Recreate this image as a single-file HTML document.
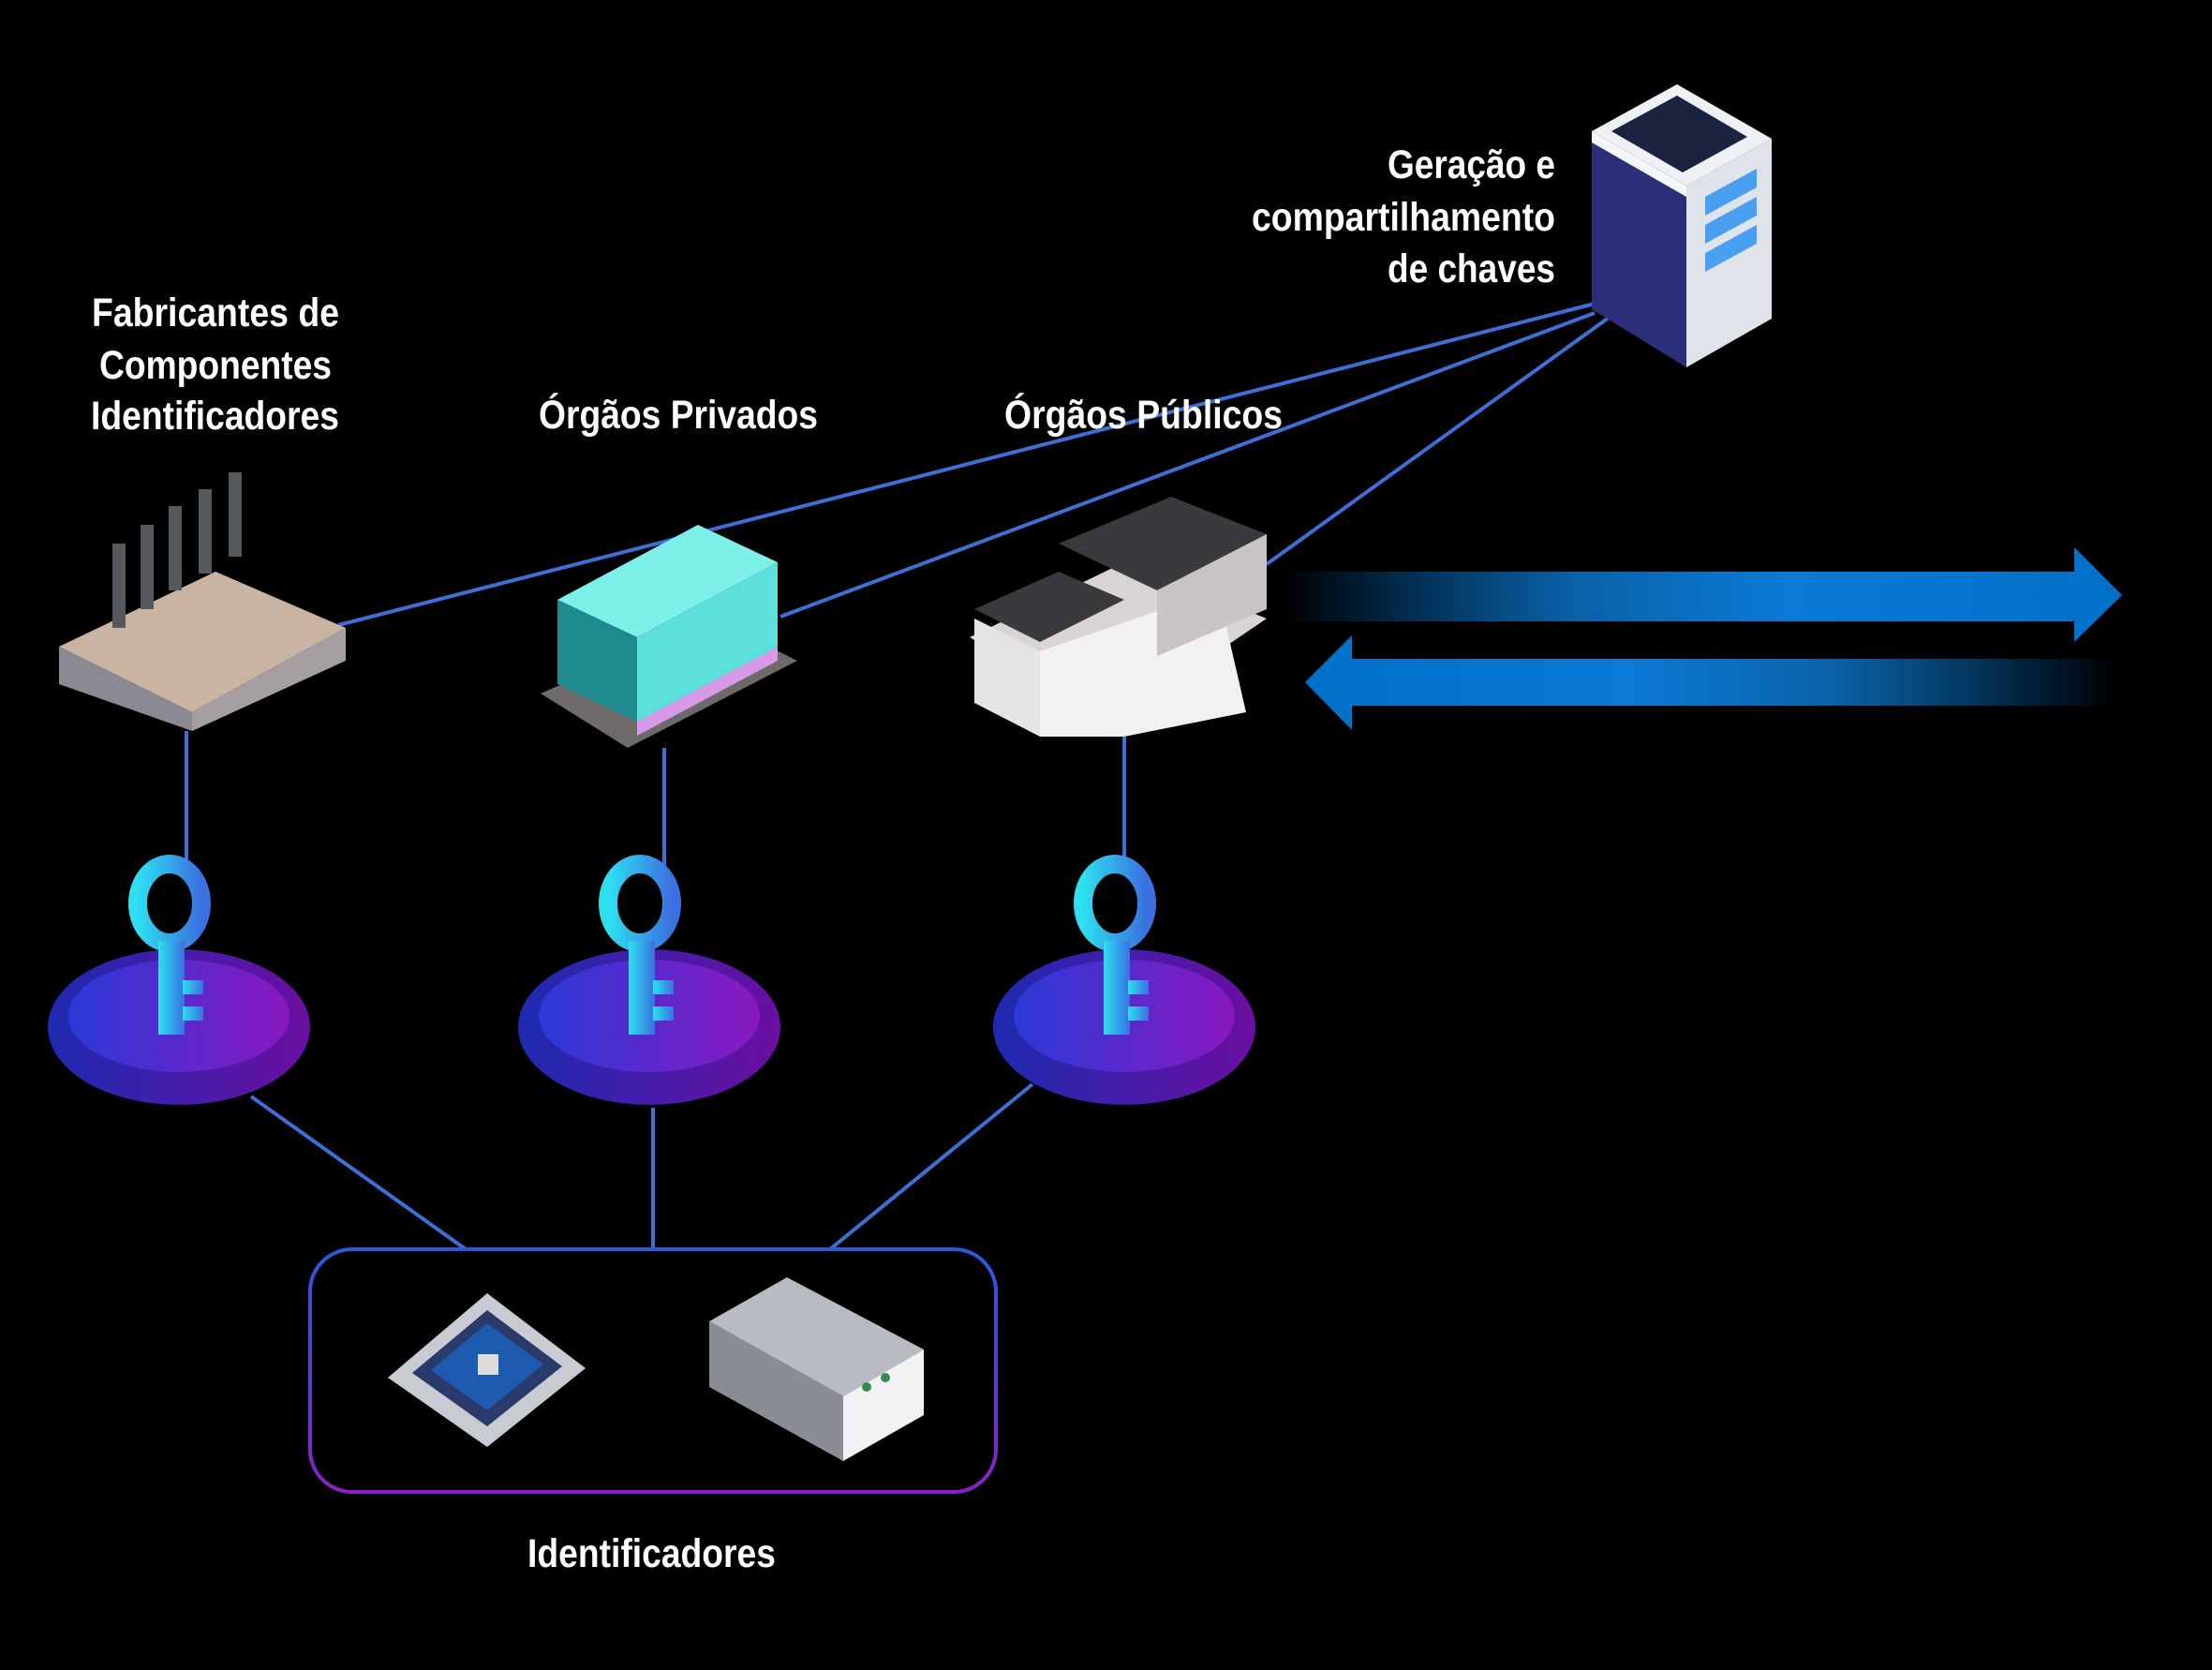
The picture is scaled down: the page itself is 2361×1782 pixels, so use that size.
<!DOCTYPE html>
<html><head><meta charset="utf-8"><style>
html,body{margin:0;padding:0;background:#000;}
svg{display:block}
text{font-family:"Liberation Sans Narrow","Liberation Sans",sans-serif;font-weight:bold;fill:#fff;font-size:43px}
</style></head><body>
<svg width="2361" height="1782" viewBox="0 0 2361 1782" xmlns="http://www.w3.org/2000/svg">
<defs>
<linearGradient id="ar" x1="0" x2="1"><stop offset="0" stop-color="#0070c8" stop-opacity="0"/><stop offset="0.35" stop-color="#0a62a8"/><stop offset="0.6" stop-color="#0a7ad6"/><stop offset="1" stop-color="#0070c8"/></linearGradient>
<linearGradient id="al" x1="1" x2="0"><stop offset="0" stop-color="#0070c8" stop-opacity="0"/><stop offset="0.35" stop-color="#0a62a8"/><stop offset="0.6" stop-color="#0a7ad6"/><stop offset="1" stop-color="#0070c8"/></linearGradient>
<linearGradient id="disc" x1="0" x2="1"><stop offset="0" stop-color="#2a3ad8"/><stop offset="1" stop-color="#8a18c0"/></linearGradient>
<linearGradient id="disc2" x1="0" x2="1"><stop offset="0" stop-color="#1e2ab0"/><stop offset="1" stop-color="#6a0fa0"/></linearGradient>
<linearGradient id="key" x1="0" x2="1"><stop offset="0" stop-color="#2ee0f0"/><stop offset="1" stop-color="#3a70e0"/></linearGradient>
<linearGradient id="box" x1="0" y1="0" x2="0" y2="1"><stop offset="0" stop-color="#2a5ad8"/><stop offset="1" stop-color="#8a20c8"/></linearGradient>
<g id="keyicon">
<ellipse cx="0" cy="-10" rx="140" ry="83" fill="url(#disc2)"/>
<ellipse cx="0" cy="-22" rx="118" ry="60" fill="url(#disc)"/>
<ellipse cx="-10" cy="-142" rx="34" ry="42" fill="none" stroke="url(#key)" stroke-width="20"/>
<rect x="-22" y="-102" width="28" height="100" fill="url(#key)"/>
<rect x="4" y="-60" width="22" height="15" fill="url(#key)"/>
<rect x="4" y="-32" width="22" height="15" fill="url(#key)"/>
</g>
</defs>

<g stroke="#3d6fd6" stroke-width="4" fill="none">
<line x1="1702" y1="324" x2="361" y2="667"/>
<line x1="1702" y1="334" x2="833" y2="658"/>
<line x1="1717" y1="339" x2="1352" y2="602"/>
<line x1="199" y1="780" x2="199" y2="926"/>
<line x1="709" y1="798" x2="709" y2="926"/>
<line x1="1200" y1="786" x2="1200" y2="919"/>
<line x1="268" y1="1170" x2="497" y2="1333"/>
<line x1="697" y1="1182" x2="697" y2="1333"/>
<line x1="1102" y1="1157" x2="886" y2="1333"/>
</g>

<polygon points="1370,610 2214,610 2214,584 2265,635 2214,685 2214,663 1370,663" fill="url(#ar)"/>
<polygon points="2259,703 1443,703 1443,678 1393,728 1443,779 1443,753 2259,753" fill="url(#al)"/>

<g>
<polygon points="1699,140 1790,90 1891,148 1800,198" fill="#eef0f4"/>
<polygon points="1720,140 1790,102 1865,146 1796,184" fill="#1b2340"/>
<polygon points="1699,140 1800,198 1800,392 1699,330" fill="#2b2f7a"/>
<polygon points="1800,198 1891,148 1891,340 1800,392" fill="#dfe3ea"/>
<polygon points="1820,210 1875,180 1875,200 1820,230" fill="#4aa0f0"/>
<polygon points="1820,240 1875,210 1875,230 1820,260" fill="#4aa0f0"/>
<polygon points="1820,270 1875,240 1875,260 1820,290" fill="#4aa0f0"/>
<polygon points="1699,140 1800,198 1800,210 1699,152" fill="#f4f6fa"/>
</g>

<g>
<polygon points="63,690 230,610 369,670 205,760" fill="#c9b3a3"/>
<polygon points="63,690 205,760 205,780 63,730" fill="#8a8a92"/>
<polygon points="205,760 369,670 369,705 205,780" fill="#a59fa3"/>
<g fill="#55595e"><rect x="120" y="580" width="14" height="90"/><rect x="150" y="560" width="14" height="90"/><rect x="180" y="540" width="14" height="90"/><rect x="212" y="522" width="14" height="90"/><rect x="244" y="504" width="14" height="90"/></g>
</g>

<g>
<polygon points="577,740 760,660 851,705 670,798" fill="#6e6a6a"/>
<polygon points="595,640 745,560 830,600 680,680" fill="#7ef0ea"/>
<polygon points="595,640 680,680 680,770 595,730" fill="#1f8a8e"/>
<polygon points="680,680 830,600 830,690 680,770" fill="#5ce0dc"/>
<polygon points="680,770 830,690 830,705 680,785" fill="#d89ae8"/>
</g>

<g>
<polygon points="1035,680 1200,600 1352,660 1190,770" fill="#d8d4d4"/>
<polygon points="1040,650 1130,610 1200,640 1110,685" fill="#3a3a3e"/>
<polygon points="1130,580 1250,530 1352,570 1235,630" fill="#3a3a3e"/>
<polygon points="1040,660 1110,695 1110,786 1040,750" fill="#e6e3e3"/>
<polygon points="1110,695 1300,630 1330,760 1200,786 1110,786" fill="#f2f0f0"/>
<polygon points="1235,630 1352,570 1352,650 1235,700" fill="#c8c4c4"/>
</g>

<use href="#keyicon" x="191" y="1106"/>
<use href="#keyicon" x="693" y="1106"/>
<use href="#keyicon" x="1200" y="1106"/>

<rect x="331" y="1333" width="732" height="259" rx="45" fill="none" stroke="url(#box)" stroke-width="4"/>
<g>
<polygon points="414,1470 520,1380 625,1460 520,1544" fill="#c8ccd2"/>
<polygon points="440,1465 520,1398 600,1458 520,1522" fill="#2a3a6a"/>
<polygon points="460,1462 520,1412 580,1456 520,1505" fill="#1e5ab0"/>
<rect x="510" y="1445" width="22" height="22" fill="#ddd"/>
</g>
<g>
<polygon points="757,1410 840,1363 986,1440 900,1490" fill="#b8bcc2"/>
<polygon points="757,1410 900,1490 900,1559 757,1480" fill="#8a8e94"/>
<polygon points="900,1490 986,1440 986,1510 900,1559" fill="#f2f2f4"/>
<circle cx="925" cy="1480" r="5" fill="#3a8a4a"/><circle cx="945" cy="1470" r="5" fill="#3a8a4a"/>
</g>

<text x="1481" y="190" textLength="179" lengthAdjust="spacingAndGlyphs">Geração e</text>
<text x="1336" y="246" textLength="324" lengthAdjust="spacingAndGlyphs">compartilhamento</text>
<text x="1481" y="301" textLength="179" lengthAdjust="spacingAndGlyphs">de chaves</text>
<text x="98" y="348" textLength="264" lengthAdjust="spacingAndGlyphs">Fabricantes de</text>
<text x="106" y="404" textLength="248" lengthAdjust="spacingAndGlyphs">Componentes</text>
<text x="97" y="458" textLength="265" lengthAdjust="spacingAndGlyphs">Identificadores</text>
<text x="575" y="457" textLength="298" lengthAdjust="spacingAndGlyphs">Órgãos Privados</text>
<text x="1072" y="457" textLength="297" lengthAdjust="spacingAndGlyphs">Órgãos Públicos</text>
<text x="563" y="1672" textLength="265" lengthAdjust="spacingAndGlyphs">Identificadores</text>
</svg>
</body></html>
